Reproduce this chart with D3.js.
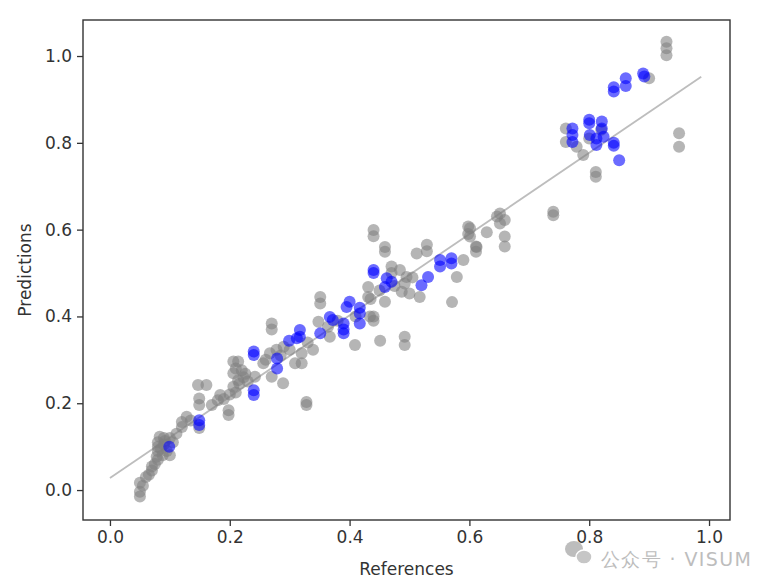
<!DOCTYPE html>
<html lang="en">
<head>
<meta charset="UTF-8">
<title>Predictions vs References</title>
<script src="https://d3js.org/d3.v7.min.js"></script>
<style>
  html, body { margin: 0; padding: 0; background: #fff; }
  svg text { font-family: "DejaVu Sans", sans-serif; fill: #333; }
</style>
</head>
<body>
<svg id="chart" width="780" height="582"></svg>
<script>
// [reference, prediction] pairs
const grayPoints = [
  [0.05,-0.015],[0.05,-0.004],[0.05,0.017],[0.055,0.01],[0.06,0.03],[0.065,0.035],[0.07,0.045],
  [0.07,0.054],[0.075,0.06],[0.078,0.077],[0.08,0.07],[0.08,0.09],[0.08,0.1],[0.08,0.11],
  [0.083,0.123],[0.09,0.12],[0.09,0.105],[0.095,0.09],[0.1,0.08],[0.1,0.12],[0.105,0.11],
  [0.085,0.095],[0.088,0.08],[0.092,0.113],
  [0.111,0.13],[0.12,0.145],[0.12,0.157],[0.128,0.169],[0.135,0.16],
  [0.147,0.242],[0.161,0.242],[0.149,0.143],[0.149,0.196],[0.149,0.211],[0.17,0.196],[0.18,0.207],
  [0.19,0.21],[0.198,0.173],[0.198,0.184],[0.184,0.219],[0.206,0.238],[0.214,0.253],[0.206,0.269],
  [0.214,0.296],[0.206,0.296],[0.22,0.276],[0.223,0.26],[0.23,0.25],[0.242,0.261],[0.2,0.22],[0.21,0.225],
  [0.216,0.245],[0.226,0.268],[0.21,0.28],
  [0.27,0.384],[0.27,0.37],[0.256,0.292],[0.267,0.315],[0.27,0.261],[0.289,0.246],[0.278,0.323],
  [0.3,0.323],[0.309,0.292],[0.32,0.292],[0.32,0.315],[0.339,0.323],[0.328,0.196],[0.328,0.203],
  [0.26,0.3],[0.29,0.33],[0.285,0.31],[0.33,0.34],
  [0.348,0.388],[0.351,0.43],[0.351,0.445],[0.409,0.334],[0.451,0.344],[0.367,0.353],[0.364,0.376],
  [0.44,0.4],[0.435,0.44],[0.38,0.39],[0.41,0.4],
  [0.44,0.599],[0.44,0.585],[0.459,0.56],[0.459,0.549],[0.47,0.515],[0.47,0.5],[0.484,0.507],
  [0.495,0.491],[0.492,0.476],[0.5,0.453],[0.512,0.545],[0.529,0.565],[0.529,0.55],[0.517,0.445],
  [0.598,0.607],[0.598,0.59],[0.629,0.594],[0.612,0.56],[0.59,0.53],[0.579,0.491],[0.571,0.433],
  [0.646,0.63],[0.431,0.468],[0.431,0.445],[0.45,0.46],[0.459,0.434],[0.434,0.4],[0.44,0.39],
  [0.492,0.353],[0.492,0.334],[0.487,0.457],[0.475,0.47],[0.505,0.49],
  [0.651,0.637],[0.659,0.622],[0.651,0.614],[0.659,0.584],[0.659,0.561],
  [0.601,0.603],[0.601,0.584],[0.611,0.561],[0.611,0.549],
  [0.74,0.641],[0.74,0.633],
  [0.761,0.833],[0.761,0.802],[0.779,0.791],[0.79,0.772],[0.811,0.733],[0.811,0.722],[0.8,0.81],[0.82,0.83],
  [0.9,0.949],[0.929,1.033],[0.929,1.018],[0.929,1.002],[0.95,0.822],[0.95,0.791]
];

const bluePoints = [
  [0.099,0.1],[0.149,0.161],[0.149,0.15],[0.24,0.319],[0.24,0.311],[0.24,0.23],[0.24,0.219],
  [0.279,0.303],[0.279,0.28],[0.299,0.344],[0.317,0.369],[0.317,0.353],[0.312,0.35],[0.351,0.361],
  [0.367,0.399],[0.372,0.392],[0.39,0.384],[0.395,0.422],[0.40,0.434],[0.39,0.361],[0.39,0.37],
  [0.417,0.407],[0.417,0.384],[0.417,0.42],
  [0.44,0.507],[0.44,0.5],[0.462,0.488],[0.47,0.48],[0.459,0.468],[0.531,0.491],[0.52,0.472],
  [0.551,0.53],[0.551,0.515],[0.57,0.534],[0.57,0.522],
  [0.772,0.833],[0.772,0.818],[0.772,0.802],[0.8,0.853],[0.8,0.845],[0.821,0.849],[0.821,0.833],
  [0.801,0.818],[0.812,0.81],[0.812,0.795],[0.824,0.814],[0.841,0.8],[0.841,0.793],[0.85,0.76],
  [0.861,0.949],[0.861,0.931],[0.841,0.928],[0.841,0.918],[0.89,0.96],[0.892,0.953]
];

// fitted line ends
const fitLine = [[0.0, 0.028], [0.987, 0.952]];

const xTicks = [0.0, 0.2, 0.4, 0.6, 0.8, 1.0];
const yTicks = [0.0, 0.2, 0.4, 0.6, 0.8, 1.0];

const margin = { top: 20, right: 50, bottom: 62, left: 83 };
const width = 780, height = 582;

const svg = d3.select("#chart");

const x = d3.scaleLinear().domain([-0.045, 1.035]).range([margin.left, width - margin.right]);
const y = d3.scaleLinear().domain([-0.069, 1.083]).range([height - margin.bottom, margin.top]);

// fit line
svg.append("path")
  .datum(fitLine)
  .attr("d", d3.line().x(d => x(d[0])).y(d => y(d[1])))
  .attr("fill", "none")
  .attr("stroke", "#bdbdbd")
  .attr("stroke-width", 1.8);

// points
svg.append("g").selectAll("circle")
  .data(grayPoints)
  .enter().append("circle")
  .attr("cx", d => x(d[0]))
  .attr("cy", d => y(d[1]))
  .attr("r", 6)
  .attr("fill", "gray")
  .attr("fill-opacity", 0.58);

svg.append("g").selectAll("circle")
  .data(bluePoints)
  .enter().append("circle")
  .attr("cx", d => x(d[0]))
  .attr("cy", d => y(d[1]))
  .attr("r", 6)
  .attr("fill", "blue")
  .attr("fill-opacity", 0.58);

// axes
const xAxis = svg.append("g")
  .attr("transform", `translate(0,${height - margin.bottom})`)
  .call(d3.axisBottom(x).tickValues(xTicks).tickFormat(d3.format(".1f")).tickSize(6).tickPadding(5));
const yAxis = svg.append("g")
  .attr("transform", `translate(${margin.left},0)`)
  .call(d3.axisLeft(y).tickValues(yTicks).tickFormat(d3.format(".1f")).tickSize(6).tickPadding(5));

[xAxis, yAxis].forEach(a => {
  a.select(".domain").remove();
  a.selectAll(".tick line").attr("stroke", "#333").attr("stroke-width", 1.3);
  a.selectAll(".tick text").attr("font-size", 17).attr("fill", "#333");
});

// frame
svg.append("rect")
  .attr("x", margin.left)
  .attr("y", margin.top)
  .attr("width", width - margin.left - margin.right)
  .attr("height", height - margin.top - margin.bottom)
  .attr("fill", "none")
  .attr("stroke", "#333")
  .attr("stroke-width", 1.4);

// axis labels
svg.append("text")
  .attr("x", (margin.left + width - margin.right) / 2)
  .attr("y", 575)
  .attr("text-anchor", "middle")
  .attr("font-size", 17)
  .text("References");

svg.append("text")
  .attr("transform", `translate(31,${(margin.top + height - margin.bottom) / 2}) rotate(-90)`)
  .attr("text-anchor", "middle")
  .attr("font-size", 17)
  .text("Predictions");

// watermark
const wm = svg.append("g").attr("opacity", 0.55);
wm.append("ellipse").attr("cx", 574).attr("cy", 549).attr("rx", 9).attr("ry", 8).attr("fill", "#888");
wm.append("ellipse").attr("cx", 584).attr("cy", 557).attr("rx", 8).attr("ry", 7).attr("fill", "#999").attr("stroke", "#fff").attr("stroke-width", 1.5);
wm.append("text")
  .attr("x", 601)
  .attr("y", 566)
  .attr("font-size", 19)
  .attr("textLength", 150)
  .attr("lengthAdjust", "spacing")
  .attr("font-family", "Noto Sans CJK SC, sans-serif")
  .style("fill", "#888")
  .text("公众号 · VISUM");
</script>
</body>
</html>
